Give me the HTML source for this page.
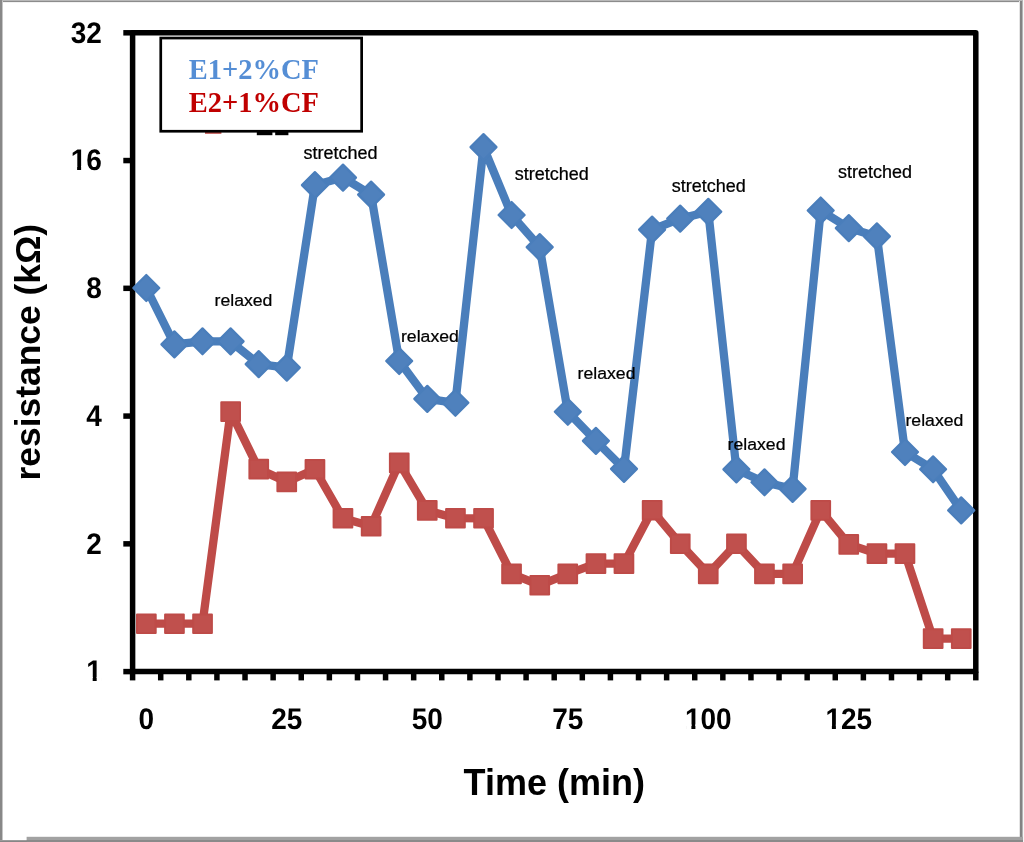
<!DOCTYPE html>
<html lang="en">
<head>
<meta charset="utf-8">
<title>resistance vs time</title>
<style>
html,body{margin:0;padding:0;background:#fff;}
body{width:1024px;height:842px;overflow:hidden;}
svg{display:block;transform:translateZ(0);will-change:transform;}
.ax{font-family:"Liberation Sans",sans-serif;font-weight:700;fill:#000;}
.tick{font-size:28px;text-rendering:geometricPrecision;}
.title{font-size:36px;}
.ann{font-family:"Liberation Sans",sans-serif;font-weight:400;font-size:18px;fill:#000;stroke:#000;stroke-width:0.25px;}
.leg{font-family:"Liberation Serif",serif;font-weight:700;font-size:29.2px;}
</style>
</head>
<body>
<svg width="1024" height="842" viewBox="0 0 1024 842">
<rect x="0" y="0" width="1024" height="842" fill="#ffffff"/>
<g id="frame">
<rect x="0" y="0" width="1023" height="1" fill="#b8b8b8"/>
<rect x="0" y="1" width="1023" height="1" fill="#8c8c8c"/>
<rect x="0" y="2" width="1023" height="1" fill="#f2f2f2"/>
<rect x="0" y="0" width="2" height="842" fill="#888888"/>
<rect x="2" y="1" width="1" height="840" fill="#c6c6c6"/>
<rect x="1019" y="1" width="1" height="840" fill="#e4e4e4"/>
<rect x="1020" y="1" width="2" height="841" fill="#838383"/>
<rect x="1022" y="1" width="1" height="841" fill="#b4b4b4"/>
<rect x="1023" y="0" width="1" height="842" fill="#f6f6f6"/>
<rect x="0" y="840" width="1023" height="1" fill="#9c9c9c"/>
<rect x="0" y="841" width="1023" height="1" fill="#868686"/>
<rect x="26.6" y="836.8" width="996.4" height="3.2" fill="#a2a2a2"/>
<rect x="26.6" y="840" width="996.4" height="2" fill="#8a8a8a"/>
</g>
<g id="legend-stubs">
<rect x="205" y="131.5" width="16.4" height="2.3" fill="#be4b48"/>
<rect x="256.8" y="131" width="15.6" height="4.2" fill="#000"/>
<rect x="275.2" y="131" width="13.2" height="4.2" fill="#000"/>
</g>
<g id="axes" stroke="#000" fill="none">
<rect x="132.6" y="32.8" width="843.2" height="638.8" stroke-width="5.5" stroke-linejoin="round"/>
<line x1="123.3" y1="671.60" x2="132.6" y2="671.60" stroke-width="5.5"/>
<line x1="123.3" y1="543.84" x2="132.6" y2="543.84" stroke-width="5.5"/>
<line x1="123.3" y1="416.08" x2="132.6" y2="416.08" stroke-width="5.5"/>
<line x1="123.3" y1="288.32" x2="132.6" y2="288.32" stroke-width="5.5"/>
<line x1="123.3" y1="160.56" x2="132.6" y2="160.56" stroke-width="5.5"/>
<line x1="123.3" y1="32.80" x2="132.6" y2="32.80" stroke-width="5.5"/>
<line x1="132.60" y1="671.6" x2="132.60" y2="680.4" stroke-width="5.5"/>
<line x1="160.71" y1="671.6" x2="160.71" y2="680.4" stroke-width="5.5"/>
<line x1="188.81" y1="671.6" x2="188.81" y2="680.4" stroke-width="5.5"/>
<line x1="216.92" y1="671.6" x2="216.92" y2="680.4" stroke-width="5.5"/>
<line x1="245.03" y1="671.6" x2="245.03" y2="680.4" stroke-width="5.5"/>
<line x1="273.13" y1="671.6" x2="273.13" y2="680.4" stroke-width="5.5"/>
<line x1="301.24" y1="671.6" x2="301.24" y2="680.4" stroke-width="5.5"/>
<line x1="329.35" y1="671.6" x2="329.35" y2="680.4" stroke-width="5.5"/>
<line x1="357.45" y1="671.6" x2="357.45" y2="680.4" stroke-width="5.5"/>
<line x1="385.56" y1="671.6" x2="385.56" y2="680.4" stroke-width="5.5"/>
<line x1="413.67" y1="671.6" x2="413.67" y2="680.4" stroke-width="5.5"/>
<line x1="441.77" y1="671.6" x2="441.77" y2="680.4" stroke-width="5.5"/>
<line x1="469.88" y1="671.6" x2="469.88" y2="680.4" stroke-width="5.5"/>
<line x1="497.99" y1="671.6" x2="497.99" y2="680.4" stroke-width="5.5"/>
<line x1="526.09" y1="671.6" x2="526.09" y2="680.4" stroke-width="5.5"/>
<line x1="554.20" y1="671.6" x2="554.20" y2="680.4" stroke-width="5.5"/>
<line x1="582.31" y1="671.6" x2="582.31" y2="680.4" stroke-width="5.5"/>
<line x1="610.41" y1="671.6" x2="610.41" y2="680.4" stroke-width="5.5"/>
<line x1="638.52" y1="671.6" x2="638.52" y2="680.4" stroke-width="5.5"/>
<line x1="666.63" y1="671.6" x2="666.63" y2="680.4" stroke-width="5.5"/>
<line x1="694.73" y1="671.6" x2="694.73" y2="680.4" stroke-width="5.5"/>
<line x1="722.84" y1="671.6" x2="722.84" y2="680.4" stroke-width="5.5"/>
<line x1="750.95" y1="671.6" x2="750.95" y2="680.4" stroke-width="5.5"/>
<line x1="779.05" y1="671.6" x2="779.05" y2="680.4" stroke-width="5.5"/>
<line x1="807.16" y1="671.6" x2="807.16" y2="680.4" stroke-width="5.5"/>
<line x1="835.27" y1="671.6" x2="835.27" y2="680.4" stroke-width="5.5"/>
<line x1="863.37" y1="671.6" x2="863.37" y2="680.4" stroke-width="5.5"/>
<line x1="891.48" y1="671.6" x2="891.48" y2="680.4" stroke-width="5.5"/>
<line x1="919.59" y1="671.6" x2="919.59" y2="680.4" stroke-width="5.5"/>
<line x1="947.69" y1="671.6" x2="947.69" y2="680.4" stroke-width="5.5"/>
<line x1="975.80" y1="671.6" x2="975.80" y2="680.4" stroke-width="5.5"/>
</g>
<g id="series-blue"><polyline points="146.3,288.0 174.4,344.4 202.5,341.3 230.6,341.4 258.7,364.1 286.8,367.6 314.9,185.1 343.0,177.6 371.1,194.6 399.2,361.0 427.3,398.9 455.4,402.8 483.5,147.1 511.6,215.0 539.7,247.1 567.8,411.8 595.9,440.9 624.0,468.9 652.1,229.6 680.2,218.6 708.3,211.8 736.4,469.4 764.5,482.3 792.6,488.9 820.7,210.5 848.8,228.1 876.9,236.4 905.0,452.0 933.1,469.3 961.2,510.4" fill="none" stroke="#4a7ebb" stroke-width="8.3" stroke-linejoin="round" stroke-linecap="round"/>
<path d="M146.3 275.0L159.3 288.0L146.3 301.0L133.3 288.0Z" fill="#4f81bd" stroke="#4a7ebb" stroke-width="2.2" stroke-linejoin="round"/>
<path d="M174.4 331.4L187.4 344.4L174.4 357.4L161.4 344.4Z" fill="#4f81bd" stroke="#4a7ebb" stroke-width="2.2" stroke-linejoin="round"/>
<path d="M202.5 328.3L215.5 341.3L202.5 354.3L189.5 341.3Z" fill="#4f81bd" stroke="#4a7ebb" stroke-width="2.2" stroke-linejoin="round"/>
<path d="M230.6 328.4L243.6 341.4L230.6 354.4L217.6 341.4Z" fill="#4f81bd" stroke="#4a7ebb" stroke-width="2.2" stroke-linejoin="round"/>
<path d="M258.7 351.1L271.7 364.1L258.7 377.1L245.7 364.1Z" fill="#4f81bd" stroke="#4a7ebb" stroke-width="2.2" stroke-linejoin="round"/>
<path d="M286.8 354.6L299.8 367.6L286.8 380.6L273.8 367.6Z" fill="#4f81bd" stroke="#4a7ebb" stroke-width="2.2" stroke-linejoin="round"/>
<path d="M314.9 172.1L327.9 185.1L314.9 198.1L301.9 185.1Z" fill="#4f81bd" stroke="#4a7ebb" stroke-width="2.2" stroke-linejoin="round"/>
<path d="M343.0 164.6L356.0 177.6L343.0 190.6L330.0 177.6Z" fill="#4f81bd" stroke="#4a7ebb" stroke-width="2.2" stroke-linejoin="round"/>
<path d="M371.1 181.6L384.1 194.6L371.1 207.6L358.1 194.6Z" fill="#4f81bd" stroke="#4a7ebb" stroke-width="2.2" stroke-linejoin="round"/>
<path d="M399.2 348.0L412.2 361.0L399.2 374.0L386.2 361.0Z" fill="#4f81bd" stroke="#4a7ebb" stroke-width="2.2" stroke-linejoin="round"/>
<path d="M427.3 385.9L440.3 398.9L427.3 411.9L414.3 398.9Z" fill="#4f81bd" stroke="#4a7ebb" stroke-width="2.2" stroke-linejoin="round"/>
<path d="M455.4 389.8L468.4 402.8L455.4 415.8L442.4 402.8Z" fill="#4f81bd" stroke="#4a7ebb" stroke-width="2.2" stroke-linejoin="round"/>
<path d="M483.5 134.1L496.5 147.1L483.5 160.1L470.5 147.1Z" fill="#4f81bd" stroke="#4a7ebb" stroke-width="2.2" stroke-linejoin="round"/>
<path d="M511.6 202.0L524.6 215.0L511.6 228.0L498.6 215.0Z" fill="#4f81bd" stroke="#4a7ebb" stroke-width="2.2" stroke-linejoin="round"/>
<path d="M539.7 234.1L552.7 247.1L539.7 260.1L526.7 247.1Z" fill="#4f81bd" stroke="#4a7ebb" stroke-width="2.2" stroke-linejoin="round"/>
<path d="M567.8 398.8L580.8 411.8L567.8 424.8L554.8 411.8Z" fill="#4f81bd" stroke="#4a7ebb" stroke-width="2.2" stroke-linejoin="round"/>
<path d="M595.9 427.9L608.9 440.9L595.9 453.9L582.9 440.9Z" fill="#4f81bd" stroke="#4a7ebb" stroke-width="2.2" stroke-linejoin="round"/>
<path d="M624.0 455.9L637.0 468.9L624.0 481.9L611.0 468.9Z" fill="#4f81bd" stroke="#4a7ebb" stroke-width="2.2" stroke-linejoin="round"/>
<path d="M652.1 216.6L665.1 229.6L652.1 242.6L639.1 229.6Z" fill="#4f81bd" stroke="#4a7ebb" stroke-width="2.2" stroke-linejoin="round"/>
<path d="M680.2 205.6L693.2 218.6L680.2 231.6L667.2 218.6Z" fill="#4f81bd" stroke="#4a7ebb" stroke-width="2.2" stroke-linejoin="round"/>
<path d="M708.3 198.8L721.3 211.8L708.3 224.8L695.3 211.8Z" fill="#4f81bd" stroke="#4a7ebb" stroke-width="2.2" stroke-linejoin="round"/>
<path d="M736.4 456.4L749.4 469.4L736.4 482.4L723.4 469.4Z" fill="#4f81bd" stroke="#4a7ebb" stroke-width="2.2" stroke-linejoin="round"/>
<path d="M764.5 469.3L777.5 482.3L764.5 495.3L751.5 482.3Z" fill="#4f81bd" stroke="#4a7ebb" stroke-width="2.2" stroke-linejoin="round"/>
<path d="M792.6 475.9L805.6 488.9L792.6 501.9L779.6 488.9Z" fill="#4f81bd" stroke="#4a7ebb" stroke-width="2.2" stroke-linejoin="round"/>
<path d="M820.7 197.5L833.7 210.5L820.7 223.5L807.7 210.5Z" fill="#4f81bd" stroke="#4a7ebb" stroke-width="2.2" stroke-linejoin="round"/>
<path d="M848.8 215.1L861.8 228.1L848.8 241.1L835.8 228.1Z" fill="#4f81bd" stroke="#4a7ebb" stroke-width="2.2" stroke-linejoin="round"/>
<path d="M876.9 223.4L889.9 236.4L876.9 249.4L863.9 236.4Z" fill="#4f81bd" stroke="#4a7ebb" stroke-width="2.2" stroke-linejoin="round"/>
<path d="M905.0 439.0L918.0 452.0L905.0 465.0L892.0 452.0Z" fill="#4f81bd" stroke="#4a7ebb" stroke-width="2.2" stroke-linejoin="round"/>
<path d="M933.1 456.3L946.1 469.3L933.1 482.3L920.1 469.3Z" fill="#4f81bd" stroke="#4a7ebb" stroke-width="2.2" stroke-linejoin="round"/>
<path d="M961.2 497.4L974.2 510.4L961.2 523.4L948.2 510.4Z" fill="#4f81bd" stroke="#4a7ebb" stroke-width="2.2" stroke-linejoin="round"/>
</g>
<g id="series-red"><polyline points="146.3,623.7 174.4,623.7 202.5,623.7 230.6,411.6 258.7,469.1 286.8,481.9 314.9,469.3 343.0,518.2 371.1,526.2 399.2,463.0 427.3,510.4 455.4,518.2 483.5,518.3 511.6,573.9 539.7,585.2 567.8,573.9 595.9,563.6 624.0,563.6 652.1,510.3 680.2,543.8 708.3,573.9 736.4,543.8 764.5,573.9 792.6,573.9 820.7,510.4 848.8,544.4 876.9,553.6 905.0,553.6 933.1,638.6 961.2,638.6" fill="none" stroke="#be4b48" stroke-width="8.3" stroke-linejoin="round" stroke-linecap="round"/>
<rect x="137.0" y="614.4" width="18.7" height="18.7" fill="#c0504d" stroke="#be4b48" stroke-width="2" stroke-linejoin="round"/>
<rect x="165.1" y="614.4" width="18.7" height="18.7" fill="#c0504d" stroke="#be4b48" stroke-width="2" stroke-linejoin="round"/>
<rect x="193.2" y="614.4" width="18.7" height="18.7" fill="#c0504d" stroke="#be4b48" stroke-width="2" stroke-linejoin="round"/>
<rect x="221.3" y="402.2" width="18.7" height="18.7" fill="#c0504d" stroke="#be4b48" stroke-width="2" stroke-linejoin="round"/>
<rect x="249.4" y="459.8" width="18.7" height="18.7" fill="#c0504d" stroke="#be4b48" stroke-width="2" stroke-linejoin="round"/>
<rect x="277.4" y="472.5" width="18.7" height="18.7" fill="#c0504d" stroke="#be4b48" stroke-width="2" stroke-linejoin="round"/>
<rect x="305.6" y="459.9" width="18.7" height="18.7" fill="#c0504d" stroke="#be4b48" stroke-width="2" stroke-linejoin="round"/>
<rect x="333.6" y="508.9" width="18.7" height="18.7" fill="#c0504d" stroke="#be4b48" stroke-width="2" stroke-linejoin="round"/>
<rect x="361.8" y="516.9" width="18.7" height="18.7" fill="#c0504d" stroke="#be4b48" stroke-width="2" stroke-linejoin="round"/>
<rect x="389.9" y="453.6" width="18.7" height="18.7" fill="#c0504d" stroke="#be4b48" stroke-width="2" stroke-linejoin="round"/>
<rect x="417.9" y="501.0" width="18.7" height="18.7" fill="#c0504d" stroke="#be4b48" stroke-width="2" stroke-linejoin="round"/>
<rect x="446.1" y="508.9" width="18.7" height="18.7" fill="#c0504d" stroke="#be4b48" stroke-width="2" stroke-linejoin="round"/>
<rect x="474.2" y="508.9" width="18.7" height="18.7" fill="#c0504d" stroke="#be4b48" stroke-width="2" stroke-linejoin="round"/>
<rect x="502.2" y="564.5" width="18.7" height="18.7" fill="#c0504d" stroke="#be4b48" stroke-width="2" stroke-linejoin="round"/>
<rect x="530.4" y="575.9" width="18.7" height="18.7" fill="#c0504d" stroke="#be4b48" stroke-width="2" stroke-linejoin="round"/>
<rect x="558.4" y="564.5" width="18.7" height="18.7" fill="#c0504d" stroke="#be4b48" stroke-width="2" stroke-linejoin="round"/>
<rect x="586.6" y="554.2" width="18.7" height="18.7" fill="#c0504d" stroke="#be4b48" stroke-width="2" stroke-linejoin="round"/>
<rect x="614.6" y="554.2" width="18.7" height="18.7" fill="#c0504d" stroke="#be4b48" stroke-width="2" stroke-linejoin="round"/>
<rect x="642.8" y="500.9" width="18.7" height="18.7" fill="#c0504d" stroke="#be4b48" stroke-width="2" stroke-linejoin="round"/>
<rect x="670.9" y="534.4" width="18.7" height="18.7" fill="#c0504d" stroke="#be4b48" stroke-width="2" stroke-linejoin="round"/>
<rect x="698.9" y="564.5" width="18.7" height="18.7" fill="#c0504d" stroke="#be4b48" stroke-width="2" stroke-linejoin="round"/>
<rect x="727.1" y="534.4" width="18.7" height="18.7" fill="#c0504d" stroke="#be4b48" stroke-width="2" stroke-linejoin="round"/>
<rect x="755.1" y="564.5" width="18.7" height="18.7" fill="#c0504d" stroke="#be4b48" stroke-width="2" stroke-linejoin="round"/>
<rect x="783.3" y="564.5" width="18.7" height="18.7" fill="#c0504d" stroke="#be4b48" stroke-width="2" stroke-linejoin="round"/>
<rect x="811.4" y="501.0" width="18.7" height="18.7" fill="#c0504d" stroke="#be4b48" stroke-width="2" stroke-linejoin="round"/>
<rect x="839.4" y="535.0" width="18.7" height="18.7" fill="#c0504d" stroke="#be4b48" stroke-width="2" stroke-linejoin="round"/>
<rect x="867.6" y="544.2" width="18.7" height="18.7" fill="#c0504d" stroke="#be4b48" stroke-width="2" stroke-linejoin="round"/>
<rect x="895.6" y="544.2" width="18.7" height="18.7" fill="#c0504d" stroke="#be4b48" stroke-width="2" stroke-linejoin="round"/>
<rect x="923.8" y="629.2" width="18.7" height="18.7" fill="#c0504d" stroke="#be4b48" stroke-width="2" stroke-linejoin="round"/>
<rect x="951.9" y="629.2" width="18.7" height="18.7" fill="#c0504d" stroke="#be4b48" stroke-width="2" stroke-linejoin="round"/>
</g>
<g id="legend">
<rect x="160.75" y="38.05" width="200.9" height="93.2" fill="#fff" stroke="#000" stroke-width="2.7"/>
<text class="leg" transform="translate(188.7 78.8) scale(0.976 1)" fill="#558ed5">E1+2%CF</text>
<text class="leg" transform="translate(188.7 112.0) scale(0.976 1)" fill="#c00000">E2+1%CF</text>
</g>
<g id="ylabels" class="ax tick" text-anchor="end">
<text transform="translate(101.8 681.4) scale(1 1.063)">1</text>
<text transform="translate(101.8 553.6) scale(1 1.063)">2</text>
<text transform="translate(101.8 425.9) scale(1 1.063)">4</text>
<text transform="translate(101.8 298.1) scale(1 1.063)">8</text>
<text transform="translate(101.8 170.4) scale(1 1.063)">16</text>
<text transform="translate(101.8 42.6) scale(1 1.063)">32</text>
</g>
<g id="xlabels" class="ax tick" text-anchor="middle">
<text transform="translate(146.3 728.7) scale(1 1.063)">0</text>
<text transform="translate(286.8 728.7) scale(1 1.063)">25</text>
<text transform="translate(427.3 728.7) scale(1 1.063)">50</text>
<text transform="translate(567.8 728.7) scale(1 1.063)">75</text>
<text transform="translate(708.3 728.7) scale(1 1.063)">100</text>
<text transform="translate(848.8 728.7) scale(1 1.063)">125</text>
</g>
<g id="one-masks">
<rect x="87.43" y="677.06" width="5.25" height="5.04" fill="#fff"/><rect x="96.68" y="677.06" width="4.95" height="5.04" fill="#fff"/>
<rect x="71.86" y="166.02" width="5.25" height="5.04" fill="#fff"/><rect x="81.11" y="166.02" width="4.95" height="5.04" fill="#fff"/>
<rect x="686.14" y="724.36" width="5.25" height="5.04" fill="#fff"/><rect x="695.39" y="724.36" width="4.95" height="5.04" fill="#fff"/>
<rect x="826.64" y="724.36" width="5.25" height="5.04" fill="#fff"/><rect x="835.89" y="724.36" width="4.95" height="5.04" fill="#fff"/>
</g>
<text class="ax title" text-anchor="middle" x="554.3" y="794.9">Time (min)</text>
<text class="ax title" style="font-size:35.4px" text-anchor="middle" transform="translate(40.3 352.2) rotate(-90)">resistance (kΩ)</text>
<g id="annotations" class="ann" text-anchor="middle">
<text style="font-size:17.65px" transform="translate(243.45 306.00) scale(1 0.98)">relaxed</text>
<text style="font-size:18px" transform="translate(340.60 158.80) scale(1 0.98)">stretched</text>
<text style="font-size:17.65px" transform="translate(429.90 341.90) scale(1 0.98)">relaxed</text>
<text style="font-size:18px" transform="translate(551.85 180.10) scale(1 0.98)">stretched</text>
<text style="font-size:17.65px" transform="translate(606.55 378.60) scale(1 0.98)">relaxed</text>
<text style="font-size:18px" transform="translate(708.75 192.10) scale(1 0.98)">stretched</text>
<text style="font-size:17.65px" transform="translate(756.50 449.50) scale(1 0.98)">relaxed</text>
<text style="font-size:18px" transform="translate(874.95 177.60) scale(1 0.98)">stretched</text>
<text style="font-size:17.65px" transform="translate(934.40 426.10) scale(1 0.98)">relaxed</text>
</g>
</svg>
</body>
</html>
